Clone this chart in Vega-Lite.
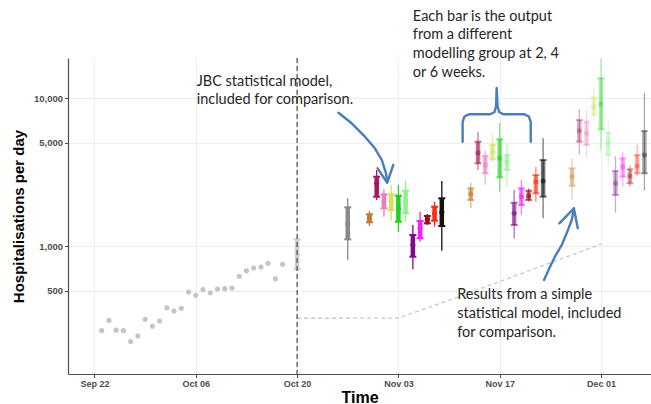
{
  "$schema": "https://vega.github.io/schema/vega-lite/v6.json",
  "width": 583,
  "height": 316,
  "autosize": {"type": "none"},
  "padding": {"left": 68, "top": 58, "right": 0, "bottom": 30},
  "background": "white",
  "config": {
    "view": {"stroke": null},
    "font": "Liberation Sans",
    "axis": {
      "domainColor": "#4d4d4d",
      "domainWidth": 1.2,
      "tickColor": "#4d4d4d",
      "tickSize": 3.5,
      "labelColor": "#4d4d4d",
      "labelFont": "Liberation Sans",
      "labelFontWeight": "bold",
      "labelPadding": 2,
      "gridColor": "#ededed",
      "gridWidth": 1,
      "titleFont": "Liberation Sans",
      "titleFontWeight": "bold",
      "titleColor": "#000000"
    }
  },
  "datasets": {
    "observed": [
      {"date": "2020-09-23", "value": 268}, {"date": "2020-09-24", "value": 315},
      {"date": "2020-09-25", "value": 270}, {"date": "2020-09-26", "value": 268},
      {"date": "2020-09-27", "value": 226}, {"date": "2020-09-28", "value": 247},
      {"date": "2020-09-29", "value": 320}, {"date": "2020-09-30", "value": 287},
      {"date": "2020-10-01", "value": 311}, {"date": "2020-10-02", "value": 383},
      {"date": "2020-10-03", "value": 364}, {"date": "2020-10-04", "value": 379},
      {"date": "2020-10-05", "value": 489}, {"date": "2020-10-06", "value": 464},
      {"date": "2020-10-07", "value": 507}, {"date": "2020-10-08", "value": 483},
      {"date": "2020-10-09", "value": 512}, {"date": "2020-10-10", "value": 515},
      {"date": "2020-10-11", "value": 520}, {"date": "2020-10-12", "value": 624},
      {"date": "2020-10-13", "value": 681}, {"date": "2020-10-14", "value": 710},
      {"date": "2020-10-15", "value": 722}, {"date": "2020-10-16", "value": 764},
      {"date": "2020-10-17", "value": 601}, {"date": "2020-10-18", "value": 752}
    ],
    "simple": [
      {"date": "2020-10-20", "value": 325}, {"date": "2020-10-27", "value": 325},
      {"date": "2020-11-03", "value": 326}, {"date": "2020-11-10", "value": 430},
      {"date": "2020-11-17", "value": 575}, {"date": "2020-11-24", "value": 770},
      {"date": "2020-12-01", "value": 1030}
    ],
    "forecasts": [
      {"date": "2020-10-20", "model": "Nowcast", "weeks": 0, "lo95": 690, "lo50": 696, "med": 879, "hi50": 1110, "hi95": 1130},
      {"date": "2020-10-27", "model": "Model 1", "weeks": 2, "lo95": 804, "lo50": 1110, "med": 1408, "hi50": 1826, "hi95": 2100},
      {"date": "2020-10-30", "model": "Model 2", "weeks": 2, "lo95": 1365, "lo50": 1446, "med": 1539, "hi50": 1637, "hi95": 1724},
      {"date": "2020-10-31", "model": "Model 3", "weeks": 2, "lo95": 2046, "lo50": 2153, "med": 2652, "hi50": 2939, "hi95": 3262},
      {"date": "2020-11-01", "model": "Model 4", "weeks": 2, "lo95": 1577, "lo50": 1797, "med": 1992, "hi50": 2235, "hi95": 2416},
      {"date": "2020-11-02", "model": "Model 5", "weeks": 2, "lo95": 1482, "lo50": 1751, "med": 1992, "hi50": 2235, "hi95": 2583},
      {"date": "2020-11-03", "model": "Model 6", "weeks": 2, "lo95": 1249, "lo50": 1459, "med": 1797, "hi50": 2187, "hi95": 2583},
      {"date": "2020-11-04", "model": "Model 7", "weeks": 2, "lo95": 1459, "lo50": 1663, "med": 1992, "hi50": 2364, "hi95": 2762},
      {"date": "2020-11-05", "model": "Model 8", "weeks": 2, "lo95": 696, "lo50": 847, "med": 1016, "hi50": 1187, "hi95": 1386},
      {"date": "2020-11-06", "model": "Model 9", "weeks": 2, "lo95": 1069, "lo50": 1127, "med": 1317, "hi50": 1475, "hi95": 1705},
      {"date": "2020-11-07", "model": "Model 10", "weeks": 2, "lo95": 1386, "lo50": 1423, "med": 1515, "hi50": 1595, "hi95": 1645},
      {"date": "2020-11-08", "model": "Model 11", "weeks": 2, "lo95": 1350, "lo50": 1482, "med": 1663, "hi50": 1843, "hi95": 1992},
      {"date": "2020-11-09", "model": "Model 12", "weeks": 2, "lo95": 930, "lo50": 1365, "med": 1689, "hi50": 2100, "hi95": 2749},
      {"date": "2020-11-13", "model": "Model 2", "weeks": 4, "lo95": 1797, "lo50": 2046, "med": 2246, "hi50": 2454, "hi95": 2677},
      {"date": "2020-11-14", "model": "Model 3", "weeks": 4, "lo95": 3262, "lo50": 3621, "med": 4270, "hi50": 5066, "hi95": 5920},
      {"date": "2020-11-15", "model": "Model 4", "weeks": 4, "lo95": 2583, "lo50": 3099, "med": 3526, "hi50": 4056, "hi95": 4405},
      {"date": "2020-11-16", "model": "Model 5", "weeks": 4, "lo95": 3712, "lo50": 3853, "med": 4337, "hi50": 4813, "hi95": 5774},
      {"date": "2020-11-17", "model": "Model 6", "weeks": 4, "lo95": 2327, "lo50": 2912, "med": 3913, "hi50": 5259, "hi95": 6748},
      {"date": "2020-11-18", "model": "Model 7", "weeks": 4, "lo95": 2515, "lo50": 3262, "med": 3712, "hi50": 4120, "hi95": 4889},
      {"date": "2020-11-19", "model": "Model 8", "weeks": 4, "lo95": 1127, "lo50": 1386, "med": 1663, "hi50": 1961, "hi95": 2389},
      {"date": "2020-11-20", "model": "Model 9", "weeks": 4, "lo95": 1620, "lo50": 1892, "med": 2153, "hi50": 2454, "hi95": 2792},
      {"date": "2020-11-21", "model": "Model 10", "weeks": 4, "lo95": 1992, "lo50": 2046, "med": 2177, "hi50": 2364, "hi95": 2454},
      {"date": "2020-11-22", "model": "Model 11", "weeks": 4, "lo95": 1992, "lo50": 2270, "med": 2719, "hi50": 3017, "hi95": 3434},
      {"date": "2020-11-23", "model": "Model 12", "weeks": 4, "lo95": 1539, "lo50": 2153, "med": 2749, "hi50": 3811, "hi95": 5342},
      {"date": "2020-11-27", "model": "Model 2", "weeks": 6, "lo95": 2046, "lo50": 2555, "med": 2939, "hi50": 3350, "hi95": 3913},
      {"date": "2020-11-28", "model": "Model 3", "weeks": 6, "lo95": 4165, "lo50": 5066, "med": 6013, "hi50": 7100, "hi95": 8427},
      {"date": "2020-11-29", "model": "Model 4", "weeks": 6, "lo95": 3975, "lo50": 4813, "med": 5774, "hi50": 6915, "hi95": 8297},
      {"date": "2020-11-30", "model": "Model 5", "weeks": 6, "lo95": 7100, "lo50": 7677, "med": 8735, "hi50": 10109, "hi95": 11925},
      {"date": "2020-12-01", "model": "Model 6", "weeks": 6, "lo95": 4453, "lo50": 6145, "med": 9110, "hi50": 13590, "hi95": 18547},
      {"date": "2020-12-02", "model": "Model 7", "weeks": 6, "lo95": 3526, "lo50": 4120, "med": 4942, "hi50": 5829, "hi95": 7100},
      {"date": "2020-12-03", "model": "Model 8", "weeks": 6, "lo95": 1679, "lo50": 2211, "med": 2652, "hi50": 3212, "hi95": 4056},
      {"date": "2020-12-04", "model": "Model 9", "weeks": 6, "lo95": 2515, "lo50": 2939, "med": 3434, "hi50": 3913, "hi95": 4337},
      {"date": "2020-12-05", "model": "Model 10", "weeks": 6, "lo95": 2515, "lo50": 2652, "med": 2972, "hi50": 3298, "hi95": 3526},
      {"date": "2020-12-06", "model": "Model 11", "weeks": 6, "lo95": 2972, "lo50": 3099, "med": 3471, "hi50": 4120, "hi95": 4813},
      {"date": "2020-12-07", "model": "Model 12", "weeks": 6, "lo95": 2364, "lo50": 3099, "med": 4120, "hi50": 5984, "hi95": 10860}
    ],
    "paths": [
      {"shape": "a1", "i": 0, "date": "2020-10-25T17:00:00Z", "value": 7955},
      {"shape": "a1", "i": 1, "date": "2020-10-27T13:00:00Z", "value": 6748},
      {"shape": "a1", "i": 2, "date": "2020-10-29T09:00:00Z", "value": 5477},
      {"shape": "a1", "i": 3, "date": "2020-10-30T18:00:00Z", "value": 4573},
      {"shape": "a1", "i": 4, "date": "2020-10-31T17:00:00Z", "value": 3811},
      {"shape": "a1", "i": 5, "date": "2020-11-01T07:00:00Z", "value": 3099},
      {"shape": "a1", "i": 6, "date": "2020-11-01T11:00:00Z", "value": 2719},
      {"shape": "h1", "i": 0, "date": "2020-10-31T03:00:00Z", "value": 3350},
      {"shape": "h1", "i": 1, "date": "2020-11-01T11:00:00Z", "value": 2677},
      {"shape": "h1", "i": 2, "date": "2020-11-02T07:00:00Z", "value": 3526},
      {"shape": "br", "i": 0, "date": "2020-11-11T21:00:00Z", "value": 5066},
      {"shape": "br", "i": 1, "date": "2020-11-11T21:00:00Z", "value": 6883},
      {"shape": "br", "i": 2, "date": "2020-11-12T03:00:00Z", "value": 7499},
      {"shape": "br", "i": 3, "date": "2020-11-12T18:00:00Z", "value": 7761},
      {"shape": "br", "i": 4, "date": "2020-11-15T16:00:00Z", "value": 7761},
      {"shape": "br", "i": 5, "date": "2020-11-16T07:00:00Z", "value": 8043},
      {"shape": "br", "i": 6, "date": "2020-11-16T12:00:00Z", "value": 8830},
      {"shape": "br", "i": 7, "date": "2020-11-16T14:00:00Z", "value": 11685},
      {"shape": "br", "i": 8, "date": "2020-11-16T17:00:00Z", "value": 8830},
      {"shape": "br", "i": 9, "date": "2020-11-16T22:00:00Z", "value": 8043},
      {"shape": "br", "i": 10, "date": "2020-11-17T12:00:00Z", "value": 7761},
      {"shape": "br", "i": 11, "date": "2020-11-20T10:00:00Z", "value": 7761},
      {"shape": "br", "i": 12, "date": "2020-11-21T01:00:00Z", "value": 7499},
      {"shape": "br", "i": 13, "date": "2020-11-21T07:00:00Z", "value": 6883},
      {"shape": "br", "i": 14, "date": "2020-11-21T07:00:00Z", "value": 5066},
      {"shape": "a2", "i": 0, "date": "2020-11-23T03:00:00Z", "value": 589},
      {"shape": "a2", "i": 1, "date": "2020-11-23T23:00:00Z", "value": 725},
      {"shape": "a2", "i": 2, "date": "2020-11-24T15:00:00Z", "value": 847},
      {"shape": "a2", "i": 3, "date": "2020-11-25T14:00:00Z", "value": 1016},
      {"shape": "a2", "i": 4, "date": "2020-11-26T06:00:00Z", "value": 1218},
      {"shape": "a2", "i": 5, "date": "2020-11-26T23:00:00Z", "value": 1498},
      {"shape": "a2", "i": 6, "date": "2020-11-27T06:00:00Z", "value": 1797},
      {"shape": "h2", "i": 0, "date": "2020-11-25T06:00:00Z", "value": 1423},
      {"shape": "h2", "i": 1, "date": "2020-11-27T06:00:00Z", "value": 1797},
      {"shape": "h2", "i": 2, "date": "2020-11-27T19:00:00Z", "value": 1317}
    ]
  },
  "layer": [
    {
      "data": {"name": "observed"},
      "mark": {"type": "circle", "size": 26, "color": "#c4c4c8", "opacity": 1},
      "encoding": {
        "x": {
          "field": "date", "type": "temporal", "title": "Time",
          "scale": {"type": "utc", "domain": [
            {"year": 2020, "month": 9, "date": 18, "hours": 8, "minutes": 10, "utc": true},
            {"year": 2020, "month": 12, "date": 7, "hours": 21, "minutes": 50, "utc": true}
          ]},
          "axis": {
            "values": [
              {"year": 2020, "month": 9, "date": 22, "utc": true},
              {"year": 2020, "month": 10, "date": 6, "utc": true},
              {"year": 2020, "month": 10, "date": 20, "utc": true},
              {"year": 2020, "month": 11, "date": 3, "utc": true},
              {"year": 2020, "month": 11, "date": 17, "utc": true},
              {"year": 2020, "month": 12, "date": 1, "utc": true}
            ],
            "format": "%b %d",
            "labelFontSize": 9,
            "grid": true,
            "titleFontSize": 16,
            "titleY": 23,
            "titleBaseline": "middle"
          }
        },
        "y": {
          "field": "value", "type": "quantitative", "title": "Hospitalisations per day",
          "scale": {"type": "log", "domain": [136.5, 18635], "nice": false, "zero": false},
          "axis": {
            "values": [500, 1000, 5000, 10000],
            "format": ",",
            "labelFontSize": 9.5,
            "grid": true,
            "titleFontSize": 15,
            "titleX": -50,
            "titleY": 158,
            "titleAngle": -90,
            "titleBaseline": "middle",
            "titleAlign": "center"
          }
        }
      }
    },
    {
      "data": {"name": "simple"},
      "mark": {"type": "line", "color": "#c8c8c8", "strokeWidth": 1.3, "strokeDash": [4, 3]},
      "encoding": {
        "x": {"field": "date", "type": "temporal", "title": "Time"},
        "y": {"field": "value", "type": "quantitative", "title": "Hospitalisations per day"}
      }
    },
    {
      "data": {"name": "forecasts"},
      "encoding": {
        "x": {"field": "date", "type": "temporal", "title": "Time"},
        "color": {
          "field": "model", "type": "nominal", "legend": null,
          "scale": {
            "domain": ["Nowcast", "Model 1", "Model 2", "Model 3", "Model 4", "Model 5", "Model 6", "Model 7", "Model 8", "Model 9", "Model 10", "Model 11", "Model 12"],
            "range": ["#d0d0d0", "#8a8a8a", "#c8782a", "#a3195b", "#f07cc0", "#d2e05a", "#1fd21f", "#92f08c", "#7f0a8a", "#f51ef5", "#9b1010", "#ff2a10", "#111111"]
          }
        },
        "opacity": {
          "field": "weeks", "type": "quantitative", "legend": null,
          "scale": {"type": "linear", "domain": [0, 2, 4, 6], "range": [1, 1, 0.58, 0.36]}
        }
      },
      "layer": [
        {
          "mark": {"type": "rule", "strokeWidth": 1.3},
          "encoding": {
            "y": {"field": "lo95", "type": "quantitative", "title": "Hospitalisations per day"},
            "y2": {"field": "hi95"}
          }
        },
        {
          "mark": {"type": "rule", "strokeWidth": 4.5},
          "encoding": {
            "y": {"field": "lo50", "type": "quantitative", "title": "Hospitalisations per day"},
            "y2": {"field": "hi50"}
          }
        },
        {
          "mark": {"type": "tick", "orient": "horizontal", "size": 7, "thickness": 2},
          "encoding": {
            "y": {"field": "lo50", "type": "quantitative", "title": "Hospitalisations per day"}
          }
        },
        {
          "mark": {"type": "tick", "orient": "horizontal", "size": 7, "thickness": 2},
          "encoding": {
            "y": {"field": "hi50", "type": "quantitative", "title": "Hospitalisations per day"}
          }
        },
        {
          "mark": {"type": "circle", "size": 26},
          "encoding": {
            "y": {"field": "med", "type": "quantitative", "title": "Hospitalisations per day"}
          }
        }
      ]
    },
    {
      "data": {"values": [{}]},
      "mark": {"type": "rule", "color": "#3a3a3a", "strokeWidth": 1.1, "strokeDash": [5, 3]},
      "encoding": {
        "x": {"datum": {"year": 2020, "month": 10, "date": 20, "utc": true}, "type": "temporal"}
      }
    },
    {
      "data": {"name": "paths"},
      "mark": {"type": "line", "color": "#4a7ebb", "strokeWidth": 2.4, "strokeCap": "round", "strokeJoin": "round"},
      "encoding": {
        "x": {"field": "date", "type": "temporal", "title": "Time"},
        "y": {"field": "value", "type": "quantitative", "title": "Hospitalisations per day"},
        "detail": {"field": "shape", "type": "nominal"},
        "order": {"field": "i", "type": "quantitative"}
      }
    },
    {
      "data": {"values": [{}]},
      "mark": {"type": "text", "text": ["JBC statistical model,", "included for comparison."], "font": "Lato", "fontSize": 14.5, "color": "#262626", "align": "left", "baseline": "middle", "lineHeight": 18.5},
      "encoding": {
        "x": {"datum": {"year": 2020, "month": 10, "date": 6, "hours": 3, "utc": true}, "type": "temporal"},
        "y": {"datum": 12888, "type": "quantitative"}
      }
    },
    {
      "data": {"values": [{}]},
      "mark": {"type": "text", "text": ["Each bar is the output", "from a different", "modelling group at 2, 4", "or 6 weeks."], "font": "Lato", "fontSize": 14.5, "color": "#262626", "align": "left", "baseline": "middle", "lineHeight": 18.7},
      "encoding": {
        "x": {"datum": {"year": 2020, "month": 11, "date": 5, "hours": 0, "utc": true}, "type": "temporal"},
        "y": {"datum": 35430, "type": "quantitative"}
      }
    },
    {
      "data": {"values": [{}]},
      "mark": {"type": "text", "text": ["Results from a simple", "statistical model, included", "for comparison."], "font": "Lato", "fontSize": 14.5, "color": "#262626", "align": "left", "baseline": "middle", "lineHeight": 19.2},
      "encoding": {
        "x": {"datum": {"year": 2020, "month": 11, "date": 11, "hours": 3, "utc": true}, "type": "temporal"},
        "y": {"datum": 467, "type": "quantitative"}
      }
    }
  ]
}
